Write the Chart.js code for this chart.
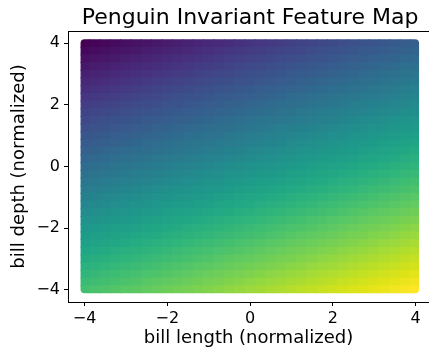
<!DOCTYPE html>
<html>
<head>
<meta charset="utf-8">
<script src="https://cdn.jsdelivr.net/npm/chart.js@4.4.1/dist/chart.umd.min.js"></script>
<style>
  html, body { margin: 0; padding: 0; background: #fff; }
</style>
</head>
<body>
<canvas id="map" width="429" height="349"></canvas>
<script>
// grid positions (normalized units), 0.25 apart
const gridX = [-4,-3.75,-3.5,-3.25,-3,-2.75,-2.5,-2.25,-2,-1.75,-1.5,-1.25,-1,-0.75,-0.5,-0.25,0,
               0.25,0.5,0.75,1,1.25,1.5,1.75,2,2.25,2.5,2.75,3,3.25,3.5,3.75,4];
const gridY = [4,3.75,3.5,3.25,3,2.75,2.5,2.25,2,1.75,1.5,1.25,1,0.75,0.5,0.25,0,
               -0.25,-0.5,-0.75,-1,-1.25,-1.5,-1.75,-2,-2.25,-2.5,-2.75,-3,-3.25,-3.5,-3.75,-4];

// feature contribution of each column (bill length) and each row (bill depth)
const lengthEffect = [-1.2,-1.125,-1.05,-0.975,-0.9,-0.825,-0.75,-0.675,-0.6,-0.525,-0.45,-0.375,-0.3,-0.225,-0.15,-0.075,0,
                      0.075,0.15,0.225,0.3,0.375,0.45,0.525,0.6,0.675,0.75,0.825,0.9,0.975,1.05,1.125,1.2];
const depthEffect = [-2.8,-2.625,-2.45,-2.275,-2.1,-1.925,-1.75,-1.575,-1.4,-1.225,-1.05,-0.875,-0.7,-0.525,-0.35,-0.175,0,
                     0.175,0.35,0.525,0.7,0.875,1.05,1.225,1.4,1.575,1.75,1.925,2.1,2.275,2.45,2.625,2.8];

const xTicks = [-4, -2, 0, 2, 4];
const yTicks = [-4, -2, 0, 2, 4];

// viridis, 21 stops
const viridis = ['#440154','#471365','#482475','#463480','#414487','#3b528b','#355f8d','#2f6c8e','#2a788e','#25848e','#21918c',
                 '#1e9c89','#22a884','#2fb47c','#44bf70','#5ec962','#7ad151','#9bd93c','#bddf26','#dfe318','#fde725'];

function hexRgb(h) {
  return [parseInt(h.slice(1,3),16), parseInt(h.slice(3,5),16), parseInt(h.slice(5,7),16)];
}
const stops = viridis.map(hexRgb);
function cmap(t) {
  t = Math.max(0, Math.min(1, t));
  const p = t * (stops.length - 1);
  const i = Math.min(stops.length - 2, Math.floor(p));
  const f = p - i;
  const a = stops[i], b = stops[i+1];
  return 'rgb(' + [0,1,2].map(k => Math.round(a[k] + (b[k]-a[k]) * f)).join(',') + ')';
}

const points = [];
gridY.forEach((yv, r) => {
  gridX.forEach((xv, c) => points.push({ x: xv, y: yv, v: lengthEffect[c] + depthEffect[r] }));
});
const allVals = points.map(p => p.v);
const vMin = Math.min(...allVals), vMax = Math.max(...allVals);

const minus = v => v < 0 ? '\u2212' + Math.abs(v) : String(v);

// fills each grid point's cell, clipped to the rounded outline the markers make
const cellPlugin = {
  id: 'cells',
  beforeDatasetsDraw(chart) {
    const {ctx, scales: {x, y}} = chart;
    const meta = chart.getDatasetMeta(0);
    const half = (gridX[1] - gridX[0]) / 2;
    const hw = Math.abs(x.getPixelForValue(half) - x.getPixelForValue(0));
    const hh = Math.abs(y.getPixelForValue(0) - y.getPixelForValue(half));
    const l = x.getPixelForValue(gridX[0]) - 4;
    const r = x.getPixelForValue(gridX[gridX.length - 1]) + 3.5;
    const t = y.getPixelForValue(gridY[0]) - 4;
    const b = y.getPixelForValue(gridY[gridY.length - 1]) + 3.5;
    ctx.save();
    ctx.beginPath();
    ctx.roundRect(l, t, r - l, b - t, 4);
    ctx.clip();
    meta.data.forEach((pt, i) => {
      ctx.fillStyle = cmap((points[i].v - vMin) / (vMax - vMin));
      ctx.fillRect(pt.x - hw - 0.5, pt.y - hh - 0.5, 2 * hw + 1, 2 * hh + 1);
    });
    ctx.restore();
  },
  afterDraw(chart) {
    const {ctx, chartArea} = chart;
    ctx.save();
    // top spine
    ctx.strokeStyle = '#000';
    ctx.lineWidth = 1;
    ctx.beginPath();
    ctx.moveTo(chartArea.left, chartArea.top + 0.5);
    ctx.lineTo(chartArea.right, chartArea.top + 0.5);
    ctx.stroke();
    // title, centred on the plotted x range
    const cx = (chart.scales.x.getPixelForValue(-4.4) + chart.scales.x.getPixelForValue(4.4)) / 2;
    ctx.fillStyle = '#000';
    ctx.font = '22px "DejaVu Sans"';
    ctx.textAlign = 'center';
    ctx.textBaseline = 'alphabetic';
    ctx.fillText('Penguin Invariant Feature Map', cx, 24);
    ctx.restore();
  }
};

const tickFont = { family: 'DejaVu Sans', size: 16 };
const labelFont = { family: 'DejaVu Sans', size: 18 };

new Chart(document.getElementById('map'), {
  type: 'scatter',
  data: {
    datasets: [{
      data: points,
      pointRadius: 0,
      pointHoverRadius: 0
    }]
  },
  options: {
    responsive: false,
    devicePixelRatio: 1,
    animation: false,
    events: [],
    layout: { padding: { top: 31, left: 0, right: 0, bottom: 0 } },
    plugins: { legend: { display: false }, tooltip: { enabled: false } },
    scales: {
      x: {
        min: -4.4,
        max: 4.325,
        afterBuildTicks: s => { s.ticks = xTicks.map(v => ({ value: v })); },
        afterFit: s => { s.height = 47; },
        ticks: { color: '#000', font: tickFont, padding: 3, maxRotation: 0, callback: v => minus(v) },
        grid: { drawOnChartArea: false, tickLength: 4, color: '#000' },
        border: { color: '#000', width: 1 },
        title: { display: true, text: 'bill length (normalized)', color: '#000', font: labelFont, padding: { top: 0, bottom: 0 } }
      },
      y: {
        min: -4.4,
        max: 4.4,
        afterBuildTicks: s => { s.ticks = yTicks.map(v => ({ value: v })); },
        afterFit: s => { s.width = 68; },
        ticks: { color: '#000', font: tickFont, padding: 4, callback: v => minus(v) },
        grid: { drawOnChartArea: false, tickLength: 4, color: '#000' },
        border: { color: '#000', width: 1 },
        title: { display: true, text: 'bill depth (normalized)', color: '#000', font: labelFont, padding: { top: 9, bottom: 0 } }
      }
    }
  },
  plugins: [cellPlugin]
});
</script>
</body>
</html>
